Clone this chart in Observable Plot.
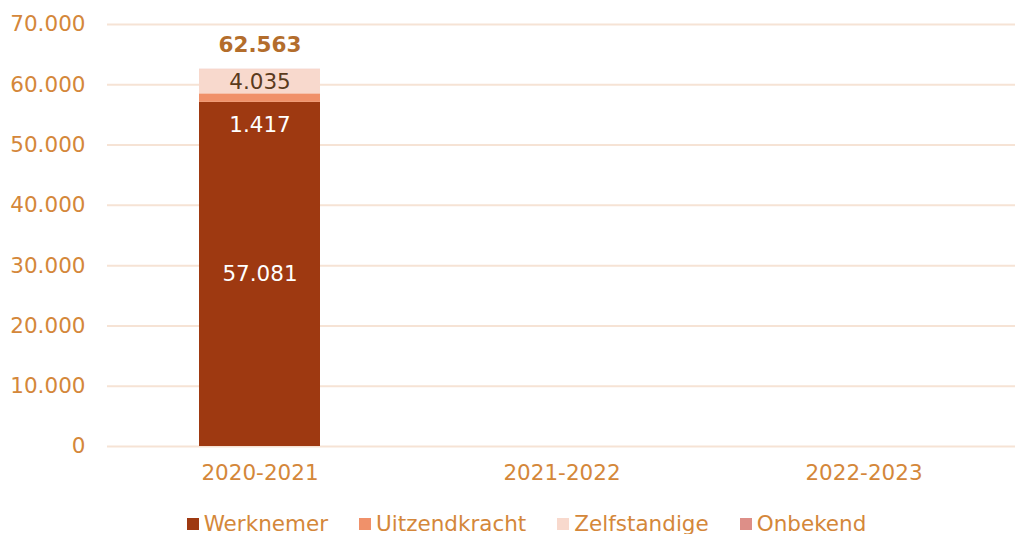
<!DOCTYPE html>
<html>
<head>
<meta charset="utf-8">
<script src="https://cdn.jsdelivr.net/npm/d3@7"></script>
<script src="https://cdn.jsdelivr.net/npm/@observablehq/plot@0.6"></script>
<style>
  html, body { margin: 0; padding: 0; background: #fff; overflow: hidden; }
  body { width: 1015px; height: 534px; position: relative; font-family: "DejaVu Sans", Verdana, sans-serif; }
  #legend { position: absolute; left: 0; top: 509px; width: 1015px; height: 30px; display: flex; justify-content: center; align-items: center; gap: 31px; font-size: 21.5px; line-height: 30px; color: #d4873a; padding-left: 38px; box-sizing: border-box; }
  #legend .item { display: flex; align-items: center; gap: 5px; }
  #legend .sw { width: 12px; height: 12px; display: inline-block; }
</style>
</head>
<body>
<div id="chart"></div>
<div id="legend"></div>
<script>
const categories = ["2020-2021", "2021-2022", "2022-2023"];
const seriesNames = ["Werknemer", "Uitzendkracht", "Zelfstandige", "Onbekend"];
const werknemer = [57081, null, null];
const uitzendkracht = [1417, null, null];
const zelfstandige = [4035, null, null];
const onbekend = [30, null, null];
const totals = [62563, null, null];
const yTicks = [0, 10000, 20000, 30000, 40000, 50000, 60000, 70000];
const colors = ["#9e3911", "#f0916a", "#f8d9cd", "#dd8f88"];

const nl = d3.formatLocale({decimal: ",", thousands: ".", grouping: [3], currency: ["€", ""]});
const fmt = nl.format(",");

const seriesValues = [werknemer, uitzendkracht, zelfstandige, onbekend];
const rows = [];
categories.forEach((c, i) => {
  let cum = 0;
  seriesNames.forEach((s, j) => {
    const v = seriesValues[j][i];
    if (v == null) return;
    rows.push({cat: c, series: s, value: v, y1: cum, y2: cum + v});
    cum += v;
  });
});
const midSeries = ["Werknemer", "Zelfstandige"];
const labels = rows.filter(r => r.series !== "Onbekend").map(r => ({
  cat: r.cat,
  y: midSeries.includes(r.series) ? (r.y1 + r.y2) / 2 : r.y1,
  text: fmt(r.value),
  series: r.series
}));
const totalRows = categories.map((c, i) => ({cat: c, total: totals[i]})).filter(d => d.total != null);

const font = "DejaVu Sans, Verdana, sans-serif";
const orange = "#d4873a";
const fs = 21.5;

const plot = Plot.plot({
  width: 1015,
  height: 500,
  marginLeft: 107,
  marginRight: 0,
  marginTop: 24,
  marginBottom: 54,
  style: {fontFamily: font, fontSize: fs + "px", background: "#fff", color: orange},
  x: {domain: categories, paddingInner: 0.6, paddingOuter: 0.3, label: null},
  y: {domain: [0, 70000], label: null},
  marks: [
    Plot.gridY(yTicks, {stroke: "#f6e3d5", strokeOpacity: 1, strokeWidth: 2}),
    Plot.axisY({ticks: yTicks, tickSize: 0, tickPadding: 22, tickFormat: fmt, fill: orange, fontSize: fs, label: null}),
    Plot.axisX({tickSize: 0, tickPadding: 18, fill: orange, fontSize: fs, label: null}),
    Plot.rectY(rows, {x: "cat", y1: "y1", y2: "y2", fill: "series"}),
    Plot.text(labels.filter(d => d.series === "Werknemer"), {x: "cat", y: "y", text: "text", fill: "#ffffff", fontSize: fs}),
    Plot.text(labels.filter(d => d.series === "Uitzendkracht"), {x: "cat", y: "y", text: "text", fill: "#ffffff", fontSize: fs, dy: 23}),
    Plot.text(labels.filter(d => d.series === "Zelfstandige"), {x: "cat", y: "y", text: "text", fill: "#5a3a1c", fontSize: fs}),
    Plot.text(totalRows, {x: "cat", y: "total", text: d => fmt(d.total), fill: "#b36d2c", fontWeight: "bold", fontSize: fs, dy: -24})
  ],
  color: {domain: seriesNames, range: colors}
});
document.getElementById("chart").appendChild(plot);

const legend = document.getElementById("legend");
seriesNames.forEach((s, i) => {
  const item = document.createElement("div");
  item.className = "item";
  const sw = document.createElement("span");
  sw.className = "sw";
  sw.style.background = colors[i];
  const t = document.createElement("span");
  t.textContent = s;
  item.appendChild(sw);
  item.appendChild(t);
  legend.appendChild(item);
});
</script>
</body>
</html>
